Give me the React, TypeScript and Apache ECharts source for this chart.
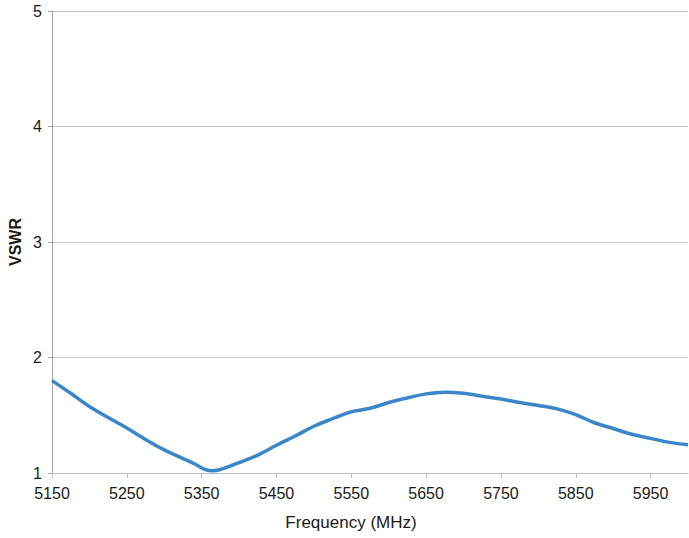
import React, { useEffect, useRef } from "react";
import * as echarts from "echarts";

const freqs = [5150, 5175, 5200, 5225, 5250, 5275, 5300, 5325, 5340, 5355, 5365, 5375, 5390, 5400, 5425, 5450, 5475, 5500, 5525, 5550, 5575, 5600, 5625, 5650, 5675, 5700, 5725, 5750, 5775, 5800, 5825, 5850, 5875, 5900, 5925, 5950, 5975, 6000];
const vswr = [1.80, 1.69, 1.575, 1.48, 1.39, 1.29, 1.20, 1.125, 1.08, 1.03, 1.02, 1.03, 1.065, 1.09, 1.155, 1.24, 1.32, 1.405, 1.47, 1.53, 1.56, 1.61, 1.65, 1.685, 1.70, 1.69, 1.665, 1.64, 1.61, 1.585, 1.555, 1.505, 1.435, 1.385, 1.335, 1.30, 1.265, 1.245];
const xTicks = [5150, 5250, 5350, 5450, 5550, 5650, 5750, 5850, 5950];
const yTicks = [1, 2, 3, 4, 5];

const FONT = "'Liberation Sans', Arial, sans-serif";

export default function App() {
  const ref = useRef<HTMLDivElement>(null);
  useEffect(() => {
    const chart = echarts.init(ref.current!, null, { renderer: "svg" });
    chart.setOption({
      animation: false,
      backgroundColor: "#ffffff",
      grid: { left: 52, right: 1, top: 11, bottom: 65, containLabel: false },
      xAxis: {
        type: "value",
        min: 5150,
        max: 6000,
        axisLine: { show: true, lineStyle: { color: "#BFBFBF", width: 1 } },
        axisTick: { show: true, length: 5, customValues: xTicks, lineStyle: { color: "#BFBFBF" } },
        axisLabel: {
          customValues: xTicks,
          formatter: (v: number) => String(v),
          margin: 12,
          color: "#1a1a1a",
          fontSize: 16,
          fontFamily: FONT,
        },
        splitLine: { show: false },
      },
      yAxis: {
        type: "value",
        min: yTicks[0],
        max: yTicks[yTicks.length - 1],
        interval: 1,
        axisLine: { show: true, lineStyle: { color: "#A6A6A6", width: 1 } },
        axisTick: { show: true, length: 4, lineStyle: { color: "#A6A6A6" } },
        axisLabel: { margin: 10, color: "#1a1a1a", fontSize: 16, fontFamily: FONT },
        splitLine: { show: true, lineStyle: { color: "#C4C4C4", width: 1 } },
      },
      graphic: [
        {
          type: "text",
          x: 351,
          y: 522,
          style: {
            text: "Frequency (MHz)",
            fill: "#1a1a1a",
            font: `17px ${FONT}`,
            align: "center",
            verticalAlign: "middle",
          },
        },
        {
          type: "text",
          x: 15,
          y: 242,
          rotation: Math.PI / 2,
          style: {
            text: "VSWR",
            fill: "#1a1a1a",
            font: `bold 16px ${FONT}`,
            align: "center",
            verticalAlign: "middle",
          },
        },
      ],
      series: [
        {
          type: "line",
          data: freqs.map((f, i) => [f, vswr[i]]),
          smooth: 0.4,
          showSymbol: false,
          lineStyle: { color: "#3B86C8", width: 3.5 },
        },
      ],
    });
    return () => chart.dispose();
  }, []);
  return (
    <div
      ref={ref}
      style={{ position: "fixed", left: 0, top: 0, width: 689, height: 538 }}
    />
  );
}
